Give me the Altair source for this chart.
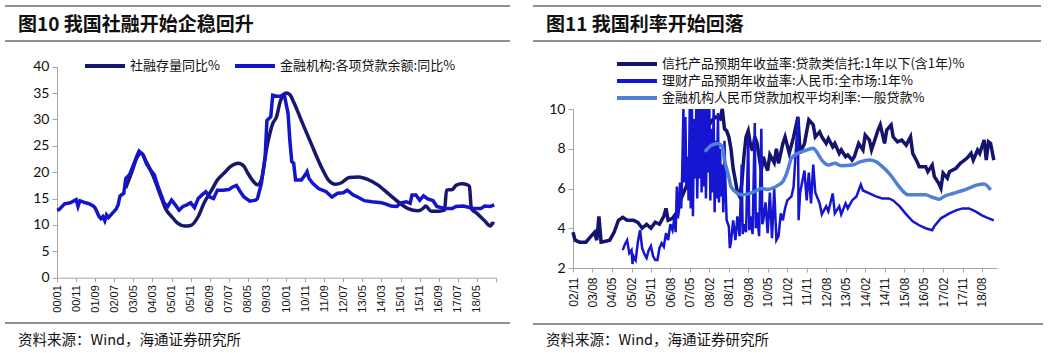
import altair as alt
import pandas as pd

# ---------------- texts ----------------
left_title = "图10 我国社融开始企稳回升"
right_title = "图11 我国利率开始回落"
source_text = "资料来源：Wind，海通证券研究所"

# ---------------- left panel ----------------
left_series = ["社融存量同比%", "金融机构:各项贷款余额:同比%"]
left_colors = ["#17176b", "#1414cc"]

tsf_dates = ["2003-01", "2003-04", "2003-07", "2003-09", "2003-12", "2004-03", "2004-06", "2004-08",
             "2004-10", "2005-01", "2005-04", "2005-08", "2005-11", "2006-03", "2006-06", "2006-10",
             "2007-01", "2007-05", "2007-08", "2007-12", "2008-03", "2008-05", "2008-08", "2008-10",
             "2008-12", "2009-03", "2009-06", "2009-08", "2009-10", "2009-12", "2010-01", "2010-03",
             "2010-05", "2010-09", "2011-02", "2011-08", "2011-11", "2012-03", "2012-06", "2012-10",
             "2013-03", "2013-08", "2014-01", "2014-07", "2015-01", "2015-05", "2015-10", "2016-01",
             "2016-02", "2016-05", "2016-09", "2016-12", "2017-01", "2017-04", "2017-06", "2017-09",
             "2017-12", "2018-01", "2018-02", "2018-05", "2018-09", "2018-12", "2019-01", "2019-02"]
tsf_values = [17.0, 19.8, 22.8, 23.6, 21.8, 19.6, 16.8, 14.8,
              13.0, 11.6, 10.4, 9.8, 9.9, 11.6, 14.1, 16.6,
              18.5, 20.0, 21.1, 21.7, 21.1, 19.8, 18.2, 17.6,
              18.5, 24.8, 29.2, 30.5, 33.5, 34.8, 35.0, 34.7,
              33.3, 29.8, 25.5, 20.6, 18.6, 17.7, 18.0, 19.0,
              19.1, 18.6, 17.6, 15.8, 14.0, 13.1, 12.7, 13.2,
              13.6, 12.6, 12.6, 12.8, 16.6, 16.7, 17.5, 17.8,
              17.6, 17.3, 13.1, 12.2, 10.8, 9.8, 10.3, 10.2]

loan_dates = ["2000-01", "2000-02", "2000-05", "2000-08", "2000-11", "2000-12", "2001-01", "2001-04",
              "2001-06", "2001-08", "2001-09", "2001-11", "2001-12", "2002-01", "2002-02", "2002-03",
              "2002-04", "2002-06", "2002-08", "2002-09", "2002-10", "2002-12", "2003-01", "2003-03",
              "2003-05", "2003-07", "2003-08", "2003-10", "2003-12", "2004-02", "2004-04", "2004-06",
              "2004-08", "2004-09", "2004-11", "2005-01", "2005-03", "2005-05", "2005-07", "2005-09",
              "2005-11", "2006-01", "2006-03", "2006-05", "2006-07", "2006-09", "2006-11", "2007-01",
              "2007-04", "2007-07", "2007-09", "2007-11", "2008-01", "2008-03", "2008-06", "2008-09",
              "2008-10", "2008-12", "2009-02", "2009-03", "2009-05", "2009-06", "2009-08", "2009-10",
              "2009-12", "2010-02", "2010-03", "2010-04", "2010-05", "2010-06", "2010-09", "2010-11",
              "2010-12", "2011-01", "2011-03", "2011-06", "2011-10", "2012-01", "2012-04", "2012-07",
              "2012-09", "2012-12", "2013-03", "2013-06", "2013-10", "2014-03", "2014-05", "2014-08",
              "2014-11", "2015-01", "2015-04", "2015-06", "2015-07", "2015-09", "2015-11", "2016-01",
              "2016-03", "2016-06", "2016-08", "2016-10", "2017-01", "2017-04", "2017-06", "2017-10",
              "2018-01", "2018-04", "2018-07", "2018-09", "2018-12", "2019-02"]
loan_values = [12.8, 12.9, 14.0, 14.2, 14.8, 13.5, 14.6, 14.2,
               14.0, 13.6, 13.2, 11.6, 11.2, 11.6, 10.8, 11.9,
               11.4, 12.2, 13.0, 13.8, 15.5, 16.0, 18.8, 19.5,
               21.3, 23.2, 24.0, 23.4, 21.5, 20.4, 19.5, 17.2,
               15.3, 14.2, 13.5, 14.7, 13.8, 12.8, 13.5, 13.8,
               14.2, 13.3, 15.0, 15.7, 16.3, 15.3, 15.0, 16.6,
               16.6, 16.7, 17.2, 17.5, 16.3, 15.3, 14.5, 14.7,
               15.0, 17.8, 23.0, 29.8, 30.5, 34.6, 34.4, 34.4,
               34.8, 31.1, 26.1, 22.0, 21.7, 18.5, 18.5, 19.5,
               20.1, 18.8, 17.9, 16.9, 16.3, 15.3, 16.0, 16.1,
               16.6, 15.7, 15.2, 14.6, 14.4, 14.2, 14.0, 13.6,
               13.5, 14.2, 14.4, 14.1, 15.7, 15.7, 14.7, 15.5,
               15.0, 14.6, 13.5, 13.3, 13.1, 13.1, 13.5, 13.6,
               13.3, 13.1, 13.1, 13.6, 13.5, 13.8]

left_x_labels = ["00/01", "00/11", "01/09", "02/07", "03/05", "04/03", "05/01", "05/11", "06/09",
                 "07/07", "08/05", "09/03", "10/01", "10/11", "11/09", "12/07", "13/05", "14/03",
                 "15/01", "15/11", "16/09", "17/07", "18/05"]
left_y_ticks = [0, 5, 10, 15, 20, 25, 30, 35, 40]

# ---------------- right panel ----------------
right_series = ["信托产品预期年收益率:贷款类信托:1年以下(含1年)%",
                "理财产品预期年收益率:人民币:全市场:1年%",
                "金融机构人民币贷款加权平均利率:一般贷款%"]
right_colors = ["#14146e", "#1515d2", "#4f80d9"]

trust_dates = ["2002-11", "2002-12", "2003-02", "2003-05", "2003-07", "2003-09", "2003-10", "2003-11",
               "2003-12", "2004-02", "2004-04", "2004-06", "2004-08", "2004-10", "2004-12", "2005-03",
               "2005-05", "2005-07", "2005-09", "2005-11", "2006-01", "2006-03", "2006-05", "2006-06",
               "2006-07", "2006-09", "2006-11", "2007-01", "2007-03", "2007-05", "2007-07", "2007-09",
               "2007-11", "2008-01", "2008-03", "2008-05", "2008-07", "2008-08", "2008-09", "2008-10",
               "2008-11", "2008-12", "2009-01", "2009-02", "2009-03", "2009-04", "2009-05", "2009-06",
               "2009-07", "2009-08", "2009-09", "2009-10", "2009-11", "2009-12", "2010-01", "2010-02",
               "2010-03", "2010-04", "2010-05", "2010-06", "2010-07", "2010-08", "2010-09", "2010-10",
               "2010-12", "2011-01", "2011-03", "2011-05", "2011-07", "2011-08", "2011-10", "2011-12",
               "2012-02", "2012-03", "2012-05", "2012-06", "2012-08", "2012-09", "2012-11", "2012-12",
               "2013-02", "2013-03", "2013-05", "2013-06", "2013-08", "2013-09", "2013-11", "2014-01",
               "2014-02", "2014-04", "2014-05", "2014-08", "2014-09", "2014-11", "2014-12", "2015-02",
               "2015-03", "2015-05", "2015-07", "2015-09", "2015-11", "2015-12", "2016-02", "2016-03",
               "2016-06", "2016-07", "2016-09", "2016-10", "2016-12", "2017-01", "2017-02", "2017-04",
               "2017-05", "2017-08", "2017-10", "2017-11", "2018-01", "2018-03", "2018-04", "2018-06",
               "2018-07", "2018-09", "2018-10", "2018-11", "2018-12", "2019-01-15"]
trust_values = [3.8, 3.4, 3.3, 3.3, 3.55, 3.8, 3.4, 4.6,
                3.3, 3.35, 3.4, 3.8, 4.4, 4.55, 4.4, 4.4,
                4.3, 4.0, 4.2, 4.0, 4.3, 4.2, 4.6, 5.0,
                4.4, 4.5, 4.8, 5.5, 6.0, 6.5, 7.0, 7.5,
                8.2, 9.0, 9.4, 9.6, 9.5, 10.0, 9.0, 8.9,
                8.6, 8.0, 7.0, 6.4, 5.8, 5.6, 6.2, 7.6,
                8.6, 8.9, 8.2, 7.9, 8.6, 8.3, 7.6, 6.9,
                7.6, 7.2, 6.9, 7.7, 7.5, 7.3, 8.0, 7.27,
                8.27, 8.6, 7.77, 8.6, 9.6, 7.77, 8.27, 9.45,
                9.2, 8.6, 8.85, 8.6, 8.27, 8.52, 8.1, 8.27,
                7.77, 7.94, 7.6, 7.69, 7.43, 7.6, 8.27, 7.94,
                8.69, 8.44, 7.94, 8.94, 9.2, 8.27, 8.94, 9.2,
                8.6, 8.35, 8.44, 8.18, 8.6, 7.77, 7.35, 7.1,
                7.1, 6.85, 7.18, 6.6, 6.26, 6.01, 6.77, 6.52,
                6.85, 7.02, 7.27, 7.35, 7.52, 7.77, 7.43, 7.94,
                7.77, 8.44, 7.43, 8.35, 8.27, 7.43]

wealth_dates = ["2004-10", "2004-11", "2004-12", "2005-01", "2005-02", "2005-02-15", "2005-03", "2005-04",
                "2005-05", "2005-06", "2005-07", "2005-08", "2005-09", "2005-10", "2005-11", "2005-12",
                "2006-01", "2006-02", "2006-03", "2006-04", "2006-05", "2006-06", "2006-07", "2006-08",
                "2006-09", "2006-10", "2006-10-15", "2006-11", "2006-11-15", "2006-12", "2006-12-15", "2007-01",
                "2007-01-15", "2007-02", "2007-02-15", "2007-03", "2007-03-15", "2007-04", "2007-04-15", "2007-05",
                "2007-05-15", "2007-06", "2007-06-15", "2007-07", "2007-07-15", "2007-08", "2007-08-15", "2007-09",
                "2007-09-15", "2007-10", "2007-10-15", "2007-11", "2007-11-15", "2007-12", "2007-12-15", "2008-01",
                "2008-01-15", "2008-02", "2008-02-15", "2008-03", "2008-03-15", "2008-04", "2008-04-15", "2008-05",
                "2008-05-15", "2008-06", "2008-06-15", "2008-07", "2008-07-15", "2008-08", "2008-08-15", "2008-09",
                "2008-09-15", "2008-10", "2008-11", "2008-11-15", "2008-12", "2009-01", "2009-02", "2009-03",
                "2009-04", "2009-05", "2009-05-15", "2009-06", "2009-07", "2009-08", "2009-08-15", "2009-09",
                "2009-10", "2009-11", "2009-11-15", "2009-12", "2010-01", "2010-02", "2010-02-15", "2010-03",
                "2010-04", "2010-05", "2010-06", "2010-07", "2010-08", "2010-09", "2010-10", "2010-11",
                "2010-12", "2011-01", "2011-02", "2011-04", "2011-05", "2011-07", "2011-07-10", "2011-08",
                "2011-10", "2011-11", "2011-12", "2012-01", "2012-02", "2012-03", "2012-05", "2012-06",
                "2012-08", "2012-09", "2012-11", "2012-12", "2013-02", "2013-03", "2013-05", "2013-06",
                "2013-08", "2013-10", "2013-12", "2014-01", "2014-04", "2014-07", "2014-10", "2015-01",
                "2015-03", "2015-06", "2015-09", "2015-12", "2016-03", "2016-06", "2016-09", "2016-10",
                "2017-01", "2017-05", "2017-08", "2017-11", "2018-02", "2018-05", "2018-08", "2018-10",
                "2019-01-15"]
wealth_values = [2.9, 3.2, 3.4, 2.75, 2.9, 2.2, 2.6, 2.4,
                 3.3, 3.9, 3.0, 2.7, 2.5, 2.9, 3.1, 2.6,
                 2.4, 2.4, 3.0, 3.25, 3.07, 3.75, 3.4, 4.2,
                 3.9, 4.6, 3.8, 6.1, 4.5, 4.9, 6.3, 5.0,
                 6.8, 10.5, 6.3, 9.6, 6.1, 7.6, 5.4, 10.5,
                 5.0, 10.5, 4.6, 9.5, 6.5, 10.5, 5.5, 10.5,
                 6.5, 10.5, 5.8, 10.5, 6.1, 10.5, 5.5, 10.5,
                 6.8, 10.2, 5.4, 9.0, 5.8, 10.5, 4.8, 8.4,
                 5.5, 9.8, 5.3, 8.0, 5.6, 7.2, 4.8, 8.4,
                 6.2, 4.4, 4.1, 3.0, 3.3, 4.4, 3.4, 4.6,
                 3.6, 7.2, 3.7, 4.2, 3.8, 8.5, 3.9, 4.6,
                 3.7, 9.3, 4.0, 4.8, 3.6, 9.0, 4.2, 4.4,
                 5.3, 3.75, 5.8, 3.5, 6.0, 3.4, 3.6, 4.75,
                 4.4, 5.0, 5.4, 5.6, 6.1, 9.6, 4.4, 5.8,
                 6.9, 5.4, 6.8, 5.25, 7.2, 5.8, 5.25, 4.7,
                 5.1, 4.85, 5.75, 4.75, 5.1, 4.7, 5.25, 5.0,
                 5.4, 5.6, 6.2, 5.9, 5.75, 5.6, 5.5, 5.5,
                 5.4, 5.1, 4.7, 4.35, 4.15, 4.0, 3.9, 4.1,
                 4.5, 4.75, 4.9, 5.0, 5.0, 4.85, 4.65, 4.55,
                 4.4]

rate_dates = ["2007-12", "2008-03", "2008-06", "2008-08", "2008-09", "2008-11", "2008-12", "2009-03",
              "2009-05", "2009-08", "2009-11", "2010-02", "2010-05", "2010-08", "2010-10", "2010-12",
              "2011-02", "2011-04", "2011-07", "2011-10", "2012-02", "2012-03", "2012-06", "2012-09",
              "2012-12", "2013-03", "2013-08", "2013-12", "2014-04", "2014-07", "2014-10", "2015-01",
              "2015-04", "2015-07", "2015-10", "2016-01", "2016-06", "2016-09", "2016-12", "2017-03",
              "2017-07", "2017-11", "2018-03", "2018-06", "2018-09", "2018-12"]
rate_values = [7.85, 8.18, 8.27, 8.1, 7.43, 6.59, 6.1, 5.76,
               5.68, 5.73, 5.85, 6.0, 5.95, 6.05, 6.18, 6.35,
               6.85, 7.52, 7.77, 7.9, 8.02, 7.94, 7.43, 7.18,
               7.27, 7.15, 7.18, 7.35, 7.43, 7.35, 7.1, 6.77,
               6.35, 5.93, 5.68, 5.68, 5.68, 5.56, 5.46, 5.63,
               5.76, 5.9, 6.06, 6.18, 6.23, 5.93]

right_x_labels = ["02/11", "03/08", "04/05", "05/02", "05/11", "06/08", "07/05", "08/02", "08/11",
                  "09/08", "10/05", "11/02", "11/11", "12/08", "13/05", "14/02", "14/11", "15/08",
                  "16/05", "17/02", "17/11", "18/08"]
right_y_ticks = [2, 4, 6, 8, 10]

CJK = "Noto Sans CJK SC"


def to_df(dates, values, name):
    return pd.DataFrame({"date": [d if len(d) > 7 else d + "-01" for d in dates],
                         "value": values, "series": name})


def dt(label_or_year, month=None):
    if month is None:
        yy, mm = label_or_year.split("/")
        return alt.DateTime(year=2000 + int(yy), month=int(mm), date=1, utc=True)
    return alt.DateTime(year=label_or_year, month=month, date=1, utc=True)


LBL = "utcFormat(datum.value, '%y/%m')"

# ---------- left encodings ----------
lx = alt.X("date:T",
           scale=alt.Scale(type="utc", domain=[dt(2000, 1), dt(2019, 3)], range=[57, 496]),
           axis=alt.Axis(values=[dt(s) for s in left_x_labels] + [dt(2019, 3)],
                         labelExpr=f"{LBL} == '19/03' ? '' : {LBL}",
                         orient="bottom", offset=-75.3, title=None, grid=False,
                         labelAngle=270, labelAlign="right", labelBaseline="middle",
                         labelFont="Liberation Sans", labelFontSize=11, labelColor="#111",
                         labelPadding=3, labelOverlap=False, labelFlush=False,
                         domainColor="#a6a6a6", tickColor="#a6a6a6", tickSize=4))
ly = alt.Y("value:Q",
           scale=alt.Scale(domain=[0, 40], range=[277.7, 66.7], nice=False, zero=False),
           axis=alt.Axis(values=left_y_ticks, orient="left", offset=-57, title=None, grid=False,
                         labelFont="Lato", labelFontSize=14, labelColor="#111", labelPadding=3,
                         domainColor="#a6a6a6", tickColor="#a6a6a6", tickSize=5))
lc = alt.Color("series:N",
               scale=alt.Scale(domain=left_series, range=left_colors),
               legend=alt.Legend(orient="none", legendX=83, legendY=59, direction="horizontal",
                                 title=None, symbolType="M-1,0H7", symbolSize=100,
                                 symbolStrokeWidth=4, labelOffset=33, labelFontSize=13,
                                 labelFont=CJK, labelColor="#111", columnPadding=7,
                                 labelLimit=0, padding=0))

left_dark = alt.Chart(to_df(tsf_dates, tsf_values, left_series[0])).mark_line(
    strokeWidth=3.5, interpolate="monotone").encode(x=lx, y=ly, color=lc)
left_blue = alt.Chart(to_df(loan_dates, loan_values, left_series[1])).mark_line(
    strokeWidth=3.5).encode(x=lx, y=ly, color=lc)
left_panel = alt.layer(left_dark, left_blue)

# ---------- right encodings ----------
rx = alt.X("date:T",
           scale=alt.Scale(type="utc", domain=[dt(2002, 11), dt(2019, 3)], range=[573, 997]),
           axis=alt.Axis(values=[dt(s) for s in right_x_labels], labelExpr=LBL,
                         orient="bottom", offset=-85, title=None, grid=False,
                         labelAngle=270, labelAlign="right", labelBaseline="middle",
                         labelFont="Liberation Sans", labelFontSize=12, labelColor="#111",
                         labelPadding=5, labelOverlap=False, labelFlush=False,
                         domainColor="#a6a6a6", tickColor="#a6a6a6", tickSize=4))
ry = alt.Y("value:Q",
           scale=alt.Scale(domain=[2, 10], range=[268, 109], nice=False, zero=False, clamp=True),
           axis=alt.Axis(values=right_y_ticks, orient="left", offset=-573, title=None, grid=False,
                         labelFont="Lato", labelFontSize=14, labelColor="#111", labelPadding=3,
                         domainColor="#a6a6a6", tickColor="#a6a6a6", tickSize=5))
rc = alt.Color("series:N",
               scale=alt.Scale(domain=right_series, range=right_colors),
               legend=alt.Legend(orient="none", legendX=615, legendY=57, direction="vertical",
                                 title=None, symbolType="M-1,0H7", symbolSize=100,
                                 symbolStrokeWidth=4, labelOffset=33, labelFontSize=13,
                                 labelFont=CJK, labelColor="#111", rowPadding=1,
                                 labelLimit=0, padding=0))

right_dark = alt.Chart(to_df(trust_dates, trust_values, right_series[0])).mark_line(
    strokeWidth=3.5).encode(x=rx, y=ry, color=rc)
right_blue = alt.Chart(to_df(wealth_dates, wealth_values, right_series[1])).mark_line(
    strokeWidth=2.5).encode(x=rx, y=ry, color=rc)
right_light = alt.Chart(to_df(rate_dates, rate_values, right_series[2])).mark_line(
    strokeWidth=3.5, interpolate="monotone").encode(x=rx, y=ry, color=rc)
right_panel = alt.layer(right_dark, right_blue, right_light)

# ---------- decorations ----------
dummy = alt.Data(values=[{"k": 1}])


def hline(x1, x2, y):
    return alt.Chart(dummy).mark_rule(color="#222", strokeWidth=1).encode(
        x=alt.value(x1), x2=alt.value(x2), y=alt.value(y))


def label(x, y, txt, size, weight="normal"):
    return alt.Chart(dummy).mark_text(align="left", baseline="middle", font=CJK,
                                      fontSize=size, fontWeight=weight, color="#111").encode(
        x=alt.value(x), y=alt.value(y), text=alt.value(txt))


decos = [
    hline(5, 510, 6), hline(5, 510, 41), hline(5, 510, 323),
    hline(533, 1041, 6), hline(533, 1041, 41), hline(533, 1043, 324),
    label(18, 25, left_title, 19, "bold"), label(546, 25, right_title, 19, "bold"),
    label(18, 341, source_text, 14.5), label(546, 341, source_text, 14.5),
]

chart = alt.layer(*decos, left_panel, right_panel).resolve_scale(
    x="independent", y="independent", color="independent"
).properties(
    width=1053, height=353, padding=0,
    autosize=alt.AutoSizeParams(type="none"),
    background="white",
).configure_view(stroke=None)

chart.save("out.html", embed_options={"renderer": "svg", "actions": False})
